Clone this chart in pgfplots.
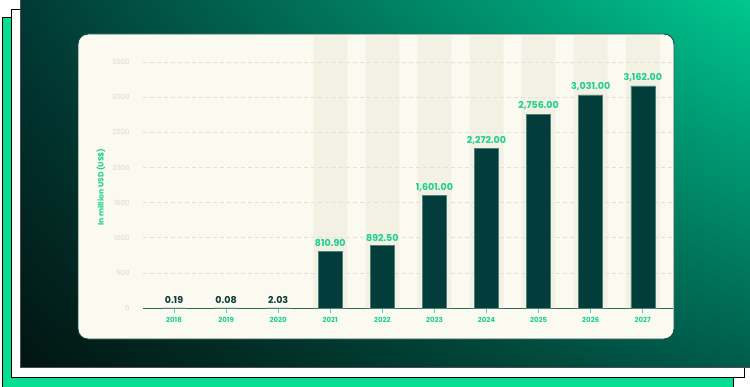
\documentclass[border=0pt]{standalone}
\usepackage{fontspec}
\setmainfont{Poppins}
\usepackage{pgfplots}
\pgfplotsset{compat=1.18}
\usetikzlibrary{shadings}
\definecolor{barc}{HTML}{023D3B}
\definecolor{bardraw}{HTML}{4F7F79}
\definecolor{bandc}{HTML}{F3F1E3}
\definecolor{panelc}{HTML}{FBFAF1}
\definecolor{paneldraw}{HTML}{124B45}
\definecolor{gridc}{HTML}{E0E0DC}
\definecolor{tickc}{HTML}{1FCF8F}
\definecolor{labgreen}{HTML}{1FCF8F}
\definecolor{labdark}{HTML}{0E3B38}
\definecolor{ytickc}{HTML}{D8D8D4}
\definecolor{axisc}{HTML}{2E625C}
\definecolor{brightgreen}{HTML}{06DF92}
\definecolor{ul}{HTML}{013A36}
\definecolor{ur}{HTML}{00C88F}
\definecolor{ll}{HTML}{021512}
\definecolor{lr}{HTML}{005C4C}
\begin{document}
\begin{tikzpicture}[x=1pt,y=1pt]
% back frames
\fill[brightgreen, draw=black, line width=1pt] (2,-2) rectangle (733,368);
\fill[white, draw=black, line width=1pt] (11,9) rectangle (744,376);
\shade[upper left=ul, upper right=ur, lower left=ll, lower right=lr] (20,19) rectangle (752,388);
\draw[black!70, line width=0.8pt] (20,388) -- (20,19) -- (752,19);
% panel
\fill[panelc, draw=paneldraw, line width=0.9pt, rounded corners=10pt] (78,47) rectangle (674,352);
% y label
\node[rotate=90, text=labgreen, font=\fontsize{7.6}{8}\selectfont\bfseries] at (101,199) {In million USD (US\$)};
\begin{axis}[
  at={(143pt,78pt)}, anchor=south west,
  scale only axis, width=530pt, height=246pt,
  xmin=-0.595, xmax=9.58, ymin=0, ymax=3500,
  axis x line*=bottom, axis y line*=left,
  y axis line style={draw=none},
  x axis line style={draw=axisc, line width=0.8pt, -},
  xtick={0,...,9},
  xticklabels={2018,2019,2020,2021,2022,2023,2024,2025,2026,2027},
  ytick={0,500,...,3500},
  tick align=outside,
  major tick length=5pt,
  xtick style={draw=tickc!80, line width=0.9pt},
  ytick style={draw=none},
  xticklabel style={font=\fontsize{7}{8}\selectfont\bfseries, text=tickc, yshift=-1pt},
  yticklabel style={font=\fontsize{7}{8}\selectfont, text=ytickc, xshift=-5pt},
  /pgf/number format/assume math mode=true,
  /pgf/number format/1000 sep={},
  clip=false,
]
\addplot[ybar, bar width=34pt, bar shift=0pt, fill=bandc, draw=none]
  coordinates {(3,3880) (4,3880) (5,3880) (6,3880) (7,3880) (8,3880) (9,3880)};
\pgfplotsinvokeforeach{500,1000,1500,2000,2500,3000,3500}{
  \draw[dash pattern=on 4pt off 3pt, draw=gridc, line width=0.6pt] (axis cs:-0.595,#1) -- (axis cs:9.58,#1);
}
\addplot[ybar, bar width=24pt, bar shift=0pt, fill=barc, draw=bardraw, line width=0.5pt,
  nodes near coords, point meta=explicit symbolic,
  nodes near coords style={text=labdark, font=\fontsize{9.5}{10}\selectfont\bfseries, anchor=south, yshift=0.5pt}]
  coordinates {(0,0.19)[0.19] (1,0.08)[0.08] (2,2.03)[2.03]};
\addplot[ybar, bar width=24pt, bar shift=0pt, fill=barc, draw=bardraw, line width=0.5pt,
  nodes near coords, point meta=explicit symbolic,
  nodes near coords style={text=labgreen, font=\fontsize{9.5}{10}\selectfont\bfseries, anchor=south, yshift=0.5pt}]
  coordinates {(3,810.90)[810.90] (4,892.50)[892.50] (5,1601.00)[1,601.00] (6,2272.00)[2,272.00]
               (7,2756.00)[2,756.00] (8,3031.00)[3,031.00] (9,3162.00)[3,162.00]};
\end{axis}
\pgfresetboundingbox
\path[use as bounding box] (0,0) rectangle (750,386);
\end{tikzpicture}
\end{document}
